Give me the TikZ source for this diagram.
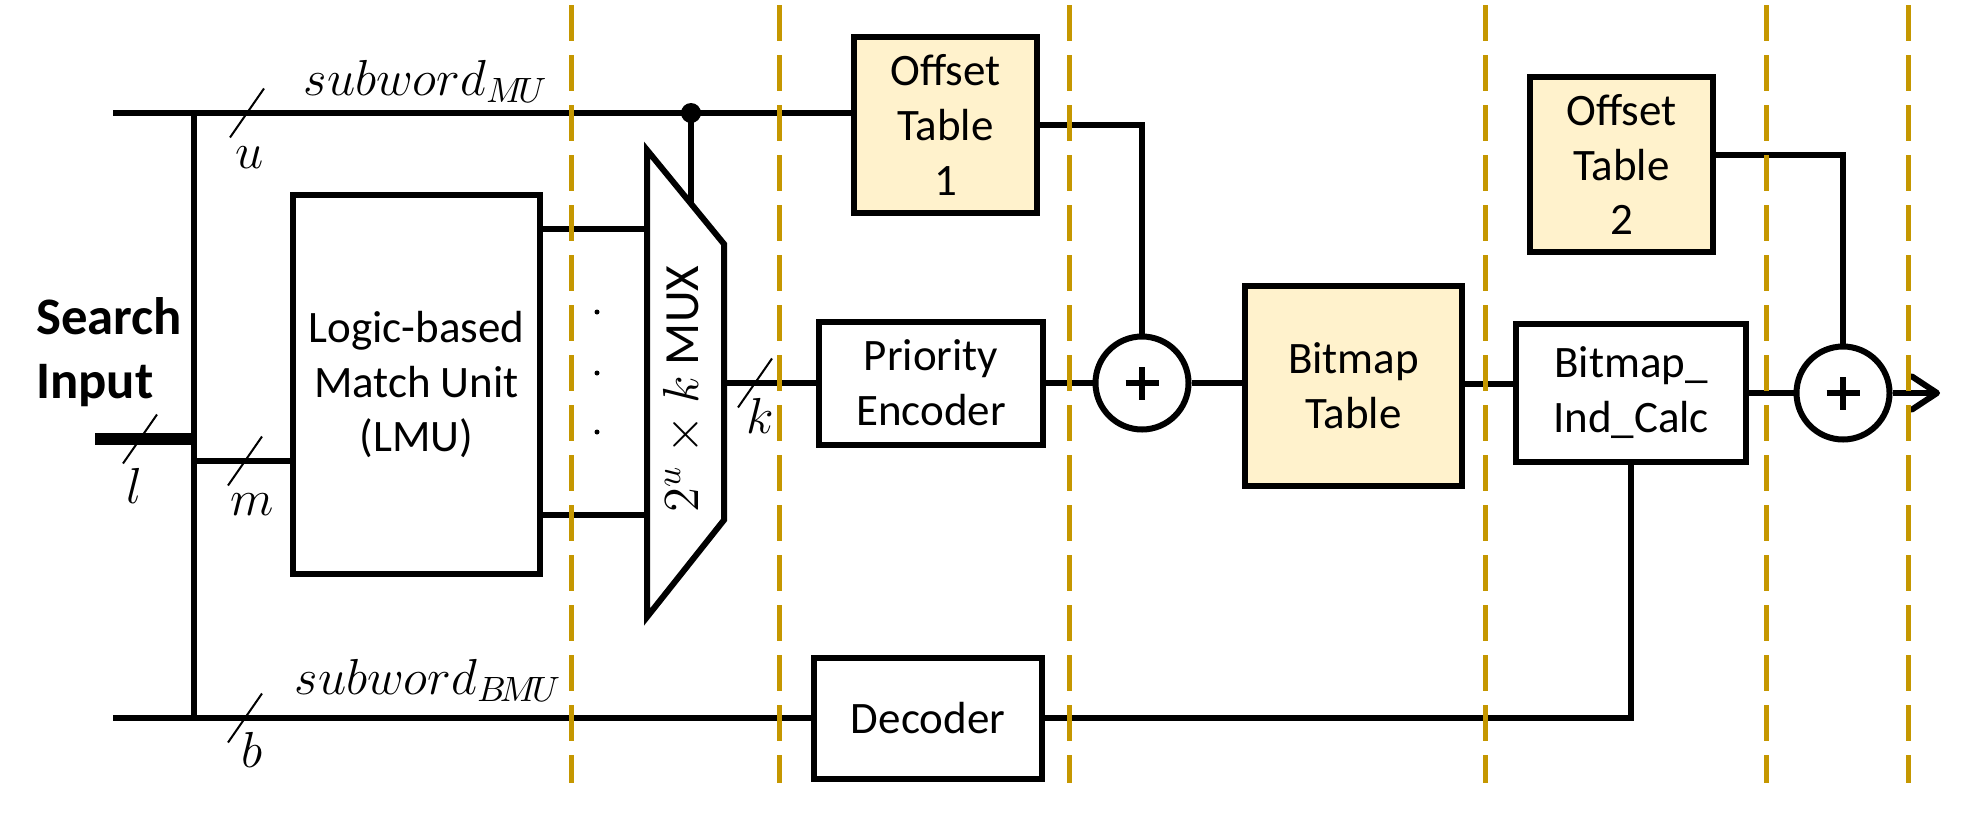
\documentclass[tikz,border=0pt]{standalone}
\usepackage{fontspec}
\setmainfont{Carlito}
\usetikzlibrary{positioning,arrows.meta,calc}
\definecolor{tablefill}{RGB}{255,242,204}
\definecolor{stagegold}{RGB}{197,151,0}

\begin{document}
\begin{tikzpicture}[
		x=0.1mm, y=-0.1mm,
		wire/.style={
			line width=0.6mm,
		},
		block/.style={
			draw,
			line width=0.6mm,
			align=center,
			inner sep=0pt,
			font=\fontsize{12.8}{15.6}\selectfont
		},
		tablebox/.style={
			block,
			fill=tablefill
		},
		adder/.style={
			draw,
			circle,
			line width=0.6mm,
			minimum size=9.3mm,
			inner sep=0pt,
			path picture={
				\draw[line width=0.6mm] (path picture bounding box.center) +(-1.65mm,0) -- +(1.65mm,0);
				\draw[line width=0.6mm] (path picture bounding box.center) +(0,-1.65mm) -- +(0,1.65mm);
			}
		},
		stage/.style={
			stagegold,
			line width=0.5mm,
			dash pattern=on 3.6mm off 1.4mm
		},
		busmark/.style={
			line width=0.2mm
		},
		buslabel/.style={
			inner sep=0pt,
			font=\fontsize{14.5}{18}\selectfont
		},
		>={Straight Barb[length=2.5mm,width=3.3mm,round]}
		]
		\useasboundingbox (0,0) rectangle (1968,816);
		
		\node[block, minimum width=24.7mm, minimum height=37.9mm] (lmu) at (416.5,384.5) {Logic-based\\Match Unit\\(LMU)};
		\node[tablebox, minimum width=18.3mm, minimum height=17.6mm] (ot1) at (945.5,125) {Offset\\Table\\1};
		\node[block, minimum width=22.4mm, minimum height=12.3mm] (pe) at (931,383) {Priority\\Encoder};
		\node[block, minimum width=22.8mm, minimum height=12.1mm] (dec) at (928,718) {Decoder};
		\node[adder] (add1) at (1142,383) {};
		\node[tablebox, minimum width=21.7mm, minimum height=20mm] (bmt) at (1353.5,386) {Bitmap\\Table};
		\node[block, minimum width=23mm, minimum height=13.8mm] (bic) at (1631,392.5) {Bitmap\_\\Ind\_Calc};
		\node[tablebox, minimum width=18.3mm, minimum height=17.5mm] (ot2) at (1621.5,164.5) {Offset\\Table\\2};
		\node[adder] (add2) at (1843,393) {};
		
		\node[buslabel, font=\fontsize{15}{18.2}\bfseries\selectfont, align=left] (search) at (109,352) {Search\\Input};
		
		% MUX
		\coordinate (mux-tl) at (647,150);
		\coordinate (mux-tr) at (724,244);
		\coordinate (mux-br) at (724,520);
		\coordinate (mux-bl) at (647,617);
		\draw[wire, line join=miter] (mux-tl) -- (mux-tr) -- (mux-br) -- (mux-bl) -- cycle;
		\node[rotate=90, inner sep=0pt, font=\fontsize{14}{16}\selectfont] (muxlabel) at (683,389) {$2^u\times k$ MUX};
		
		\coordinate (top-in) at (113,113);
		\coordinate (bot-in) at (113,718);
		\coordinate (bus-top) at (194,113);
		\coordinate (bus-bot) at (194,718);
		\coordinate (search-in) at (95,439);
		\coordinate (m-in) at (194,461);
		\coordinate (tap) at (691,113);
		\coordinate (mux-sel) at (691,203.7);
		\coordinate (mux-out) at (724,383);
		\coordinate (out) at (1940,393);
		
		\draw[wire] (top-in) -- (top-in -| ot1.west);
		\draw[wire] (bot-in) -- (dec.west);
		\draw[wire] (bus-top) -- (bus-bot);
		\draw[line width=1.2mm] (search-in) -- (search-in -| bus-top);
		\draw[wire] (m-in) -- (m-in -| lmu.west);
		\draw[wire] (lmu.east |- 0,228.5) -- (mux-tl |- 0,228.5);
		\draw[wire] (lmu.east |- 0,515) -- (mux-tl |- 0,515);
		\foreach \dy in {312,373,432}
		\fill (597,\dy) circle (0.25mm);
		\fill (tap) circle (1mm);
		\draw[wire] (tap) -- (mux-sel);
		\draw[wire] (mux-out) -- (pe.west);
		
		\draw[wire] (ot1.east) -| (add1.north);
		\draw[wire] (pe.east) -- (add1.west);
		\draw[wire] (add1.east) -- (add1.east -| bmt.west);
		\draw[wire] (bmt.east |- 0,383.5) -- (bic.west |- 0,383.5);
		\draw[wire] (bic.east |- add2) -- (add2.west);
		\draw[wire] (ot2.east |- 0,155) -| (add2.north);
		\draw[wire,->] (add2.east) -- (out);
		\draw[wire] (dec.east) -| (bic.south);
		
		% bus widths
		\foreach \px/\py in {247/113,140/439,245/461,245/718,755/383}
		\draw[busmark] (\px,\py) +(-17,24.5) -- +(17,-24.5);
		\node[buslabel] (u) at (250,158) {$u$};
		\node[buslabel] (l) at (134,486) {$l$};
		\node[buslabel] (m) at (252,505) {$m$};
		\node[buslabel] (b) at (252,750) {$b$};
		\node[buslabel] (k) at (760,416) {$k$};
		\node[buslabel, anchor=base west] (mu) at (303,95) {$subword_{M\!U}$};
		\node[buslabel, anchor=base west] (bmu) at (294,694) {$subword_{B\!M\!U}$};
		
		% pipeline stages
		\foreach \x in {571,779,1069,1485,1766,1908}
		\draw[stage] (\x,5) -- (\x,783);
		
\end{tikzpicture}
\end{document}
